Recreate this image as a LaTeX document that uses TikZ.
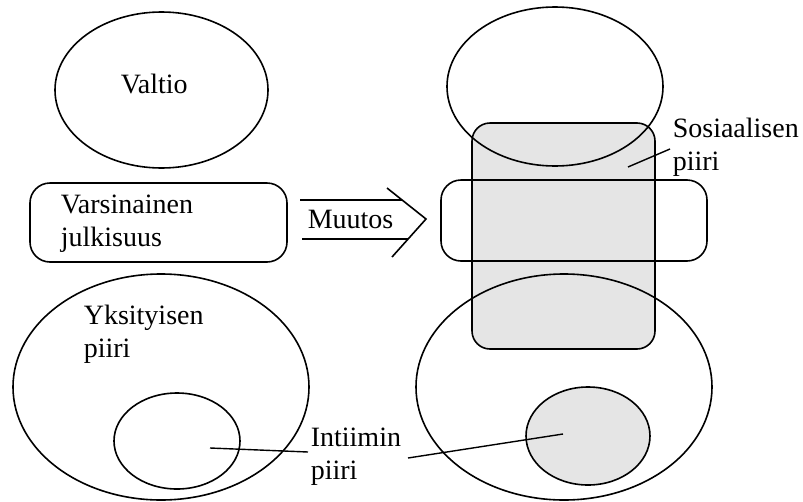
\documentclass[tikz,border=0pt]{standalone}
\usepackage{fontspec}
\setmainfont{Liberation Serif}
\usetikzlibrary{shapes.geometric}
\begin{document}
\begin{tikzpicture}[x=1pt,y=-1pt,
  line width=1.6pt,
  oval/.style={draw, ellipse, inner sep=0pt},
  box/.style={draw, rectangle, rounded corners=20pt, inner sep=0pt},
  shadefill/.style={fill=black!10},
  lbl/.style={anchor=base west, inner sep=0pt, font=\fontsize{28}{33}\selectfont},
  leader/.style={draw, line width=1.4pt}
]
\useasboundingbox (0,0) rectangle (803,501);
% shaded areas first
\node[box, shadefill, minimum width=183pt, minimum height=226pt, rounded corners=18pt] (soc) at (563.5,236) {};
\node[oval, shadefill, minimum width=124pt, minimum height=98pt] (intR) at (588,436) {};
% right side outlines
\node[oval, minimum width=216pt, minimum height=159pt] (valR) at (555,86.5) {};
\node[box, minimum width=266pt, minimum height=81pt] (julR) at (574,220.5) {};
\node[oval, minimum width=296pt, minimum height=226pt] (yksR) at (564,387) {};
% left side
\node[oval, minimum width=213pt, minimum height=156pt] (val) at (161.5,90) {};
\node[box, minimum width=257pt, minimum height=79pt] (jul) at (158.5,222.5) {};
\node[oval, minimum width=296pt, minimum height=226pt] (yks) at (161,387) {};
\node[oval, minimum width=126pt, minimum height=96pt] (intL) at (177,441) {};
% labels
\node[lbl] (valtxt) at (120,93) {Valtio};
\node[lbl] (jul1) at (60,213) {Varsinainen};
\node[lbl] (jul2) at (60,246) {julkisuus};
\node[lbl] (muut) at (307,228) {Muutos};
\node[lbl] (yks1) at (83,324) {Yksityisen};
\node[lbl] (yks2) at (83,357) {piiri};
\node[lbl] (int1) at (310,446) {Intiimin};
\node[lbl] (int2) at (310,479) {piiri};
\node[lbl] (sos1) at (672,137) {Sosiaalisen};
\node[lbl] (sos2) at (672,170) {piiri};
% arrow
\coordinate (a1) at (300,200);
\coordinate (a2) at (402,200);
\coordinate (b1) at (302,239);
\coordinate (b2) at (408,239);
\coordinate (c1) at (387,188);
\coordinate (tip) at (426,219);
\coordinate (c2) at (392,257);
\draw (a1) -- (a2);
\draw (b1) -- (b2);
\draw (c1) -- (tip) -- (c2);
% leader lines
\coordinate (sosS) at (670,149);
\coordinate (sosE) at (628,167);
\coordinate (intLS) at (308,452);
\coordinate (intLE) at (210,448);
\coordinate (intRS) at (408,458);
\coordinate (intRE) at (563,434);
\path[leader] (sosS) -- (sosE);
\path[leader] (intLS) -- (intLE);
\path[leader] (intRS) -- (intRE);
\end{tikzpicture}
\end{document}
